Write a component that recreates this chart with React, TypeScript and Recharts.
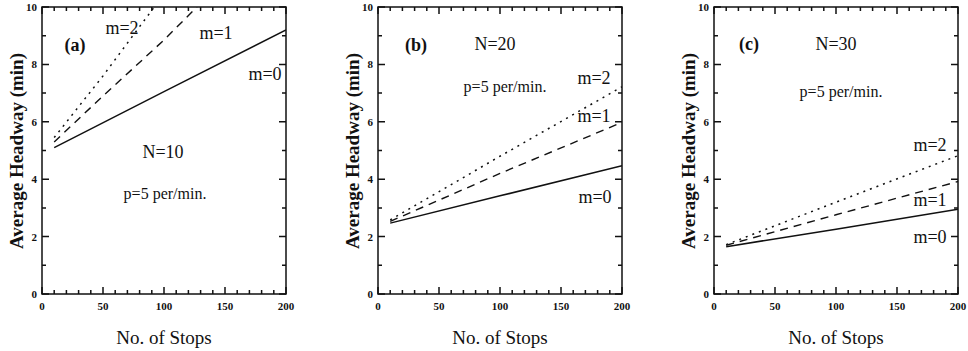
import { Line, LineChart, ReferenceArea, XAxis, YAxis } from "recharts";

// ─── Data ─────────────────────────────────────────────────────────────────────
const X_TICKS = [0, 10, 20, 30, 40, 50, 60, 70, 80, 90, 100, 110, 120, 130, 140, 150, 160, 170, 180, 190, 200];
const Y_TICKS = [0, 1, 2, 3, 4, 5, 6, 7, 8, 9, 10];

const STOPS = [10, 100, 200];

// (a) N=10 — m=1 and m=2 leave the frame at the top
const A_M0 = [5.1, 7.05, 9.2];
const A_M1_STOPS = [10, 50, 100, 127];
const A_M1 = [5.3, 6.9, 8.85, 10];
const A_M2_STOPS = [10, 50, 92];
const A_M2 = [5.45, 7.6, 10];

// (b) N=20
const B_M0 = [2.47, 3.42, 4.47];
const B_M1 = [2.53, 4.2, 5.98];
const B_M2 = [2.58, 4.8, 7.22];

// (c) N=30
const C_M0 = [1.65, 2.26, 2.95];
const C_M1 = [1.7, 2.76, 3.92];
const C_M2 = [1.72, 3.2, 4.82];

// ─── Layout / styles ──────────────────────────────────────────────────────────
const INK = "#111";
const SERIF = "'Liberation Serif', 'Times New Roman', serif";
const FRAME_W = 1.5;
const CHART_W = 296;
const CHART_H = 351;
const MARGIN = { top: 7, right: 10, bottom: 0, left: 0 };
const Y_AXIS_W = 42;
const X_AXIS_H = 57;
const PLOT_TOP = MARGIN.top;
const PLOT_BOTTOM = CHART_H - MARGIN.bottom - X_AXIS_H;
const PLOT_LEFT = MARGIN.left + Y_AXIS_W;
const PLOT_RIGHT = CHART_W - MARGIN.right;

const toPoints = (stops: number[], values: number[]) =>
  stops.map((s, i) => ({ s, h: values[i] }));

// ─── Ticks: inward on all four sides, minor + major (drawn as paths) ─────────
function XTick({ x, payload }: any) {
  const v = payload.value;
  const major = v % 50 === 0;
  const len = major ? 7 : 4;
  const d = `M${x},${PLOT_BOTTOM}V${PLOT_BOTTOM - len}M${x},${PLOT_TOP}V${PLOT_TOP + len}`;
  return (
    <g>
      <path d={d} stroke={INK} strokeWidth={FRAME_W} fill="none" />
      {major && (
        <text x={x} y={PLOT_BOTTOM + 16} textAnchor="middle" fontFamily={SERIF} fontWeight="bold" fontSize={11} fill={INK}>
          {v}
        </text>
      )}
    </g>
  );
}

function YTick({ y, payload }: any) {
  const v = payload.value;
  const major = v % 2 === 0;
  const len = major ? 7 : 4;
  const d = `M${PLOT_LEFT},${y}H${PLOT_LEFT + len}M${PLOT_RIGHT},${y}H${PLOT_RIGHT - len}`;
  return (
    <g>
      <path d={d} stroke={INK} strokeWidth={FRAME_W} fill="none" />
      {major && (
        <text x={PLOT_LEFT - 5} y={y + 4} textAnchor="end" fontFamily={SERIF} fontWeight="bold" fontSize={11} fill={INK}>
          {v}
        </text>
      )}
    </g>
  );
}

// ─── Panel ────────────────────────────────────────────────────────────────────
interface Note {
  text: string
  cx: number
  cy: number
  size: number
  bold?: boolean
}

interface PanelProps {
  left: number
  m0: { s: number; h: number }[]
  m1: { s: number; h: number }[]
  m2: { s: number; h: number }[]
  notes: Note[]
}

function Panel({ left, m0, m1, m2, notes }: PanelProps) {
  return (
    <div style={{ position: "absolute", left, top: 0, width: CHART_W, height: CHART_H }}>
      <LineChart width={CHART_W} height={CHART_H} margin={MARGIN}>
        <XAxis
          dataKey="s"
          type="number"
          domain={[0, 200]}
          ticks={X_TICKS}
          interval={0}
          allowDataOverflow
          height={X_AXIS_H}
          tickLine={false}
          axisLine={false}
          tick={(p: any) => <XTick {...p} />}
        />
        <YAxis
          type="number"
          domain={[0, 10]}
          ticks={Y_TICKS}
          interval={0}
          allowDataOverflow
          width={Y_AXIS_W}
          tickLine={false}
          axisLine={false}
          tick={(p: any) => <YTick {...p} />}
        />

        {/* plot frame */}
        <ReferenceArea x1={0} x2={200} y1={0} y2={10} fill="none" fillOpacity={0} stroke={INK} strokeWidth={FRAME_W} />

        <Line data={m0} dataKey="h" stroke={INK} strokeWidth={1.5} dot={false} isAnimationActive={false} />
        <Line data={m1} dataKey="h" stroke={INK} strokeWidth={1.4} strokeDasharray="8 6" dot={false} isAnimationActive={false} />
        <Line data={m2} dataKey="h" stroke={INK} strokeWidth={1.5} strokeDasharray="2 5" dot={false} isAnimationActive={false} />
      </LineChart>

      {/* axis titles */}
      <div
        style={{
          position: "absolute",
          left: 17,
          top: 151,
          transform: "translate(-50%, -50%) rotate(-90deg)",
          whiteSpace: "nowrap",
          fontFamily: SERIF,
          fontWeight: "bold",
          fontSize: 19,
          color: INK,
        }}
      >
        Average Headway (min)
      </div>
      <div
        style={{
          position: "absolute",
          left: 164,
          top: 338,
          transform: "translate(-50%, -50%)",
          whiteSpace: "nowrap",
          fontFamily: SERIF,
          fontSize: 19,
          color: INK,
        }}
      >
        No. of Stops
      </div>

      {/* annotations */}
      {notes.map((n) => (
        <div
          key={n.text}
          style={{
            position: "absolute",
            left: n.cx,
            top: n.cy,
            transform: "translate(-50%, -50%)",
            whiteSpace: "nowrap",
            fontFamily: SERIF,
            fontWeight: n.bold ? "bold" : "normal",
            fontSize: n.size,
            color: INK,
          }}
        >
          {n.text}
        </div>
      ))}
    </div>
  );
}

export default function App() {
  return (
    <div
      style={{
        position: "absolute",
        left: 0,
        top: 0,
        width: 968,
        height: 351,
        overflow: "hidden",
        background: "#fff",
      }}
    >
      <Panel
        left={0}
        m0={toPoints(STOPS, A_M0)}
        m1={toPoints(A_M1_STOPS, A_M1)}
        m2={toPoints(A_M2_STOPS, A_M2)}
        notes={[
          { text: "(a)", cx: 75, cy: 45, size: 18, bold: true },
          { text: "m=2", cx: 122, cy: 28, size: 18 },
          { text: "m=1", cx: 216, cy: 33, size: 18 },
          { text: "m=0", cx: 265, cy: 74, size: 18 },
          { text: "N=10", cx: 163, cy: 152, size: 18 },
          { text: "p=5 per/min.", cx: 165, cy: 194, size: 16 },
        ]}
      />
      <Panel
        left={336}
        m0={toPoints(STOPS, B_M0)}
        m1={toPoints(STOPS, B_M1)}
        m2={toPoints(STOPS, B_M2)}
        notes={[
          { text: "(b)", cx: 80, cy: 45, size: 18, bold: true },
          { text: "N=20", cx: 159, cy: 44, size: 18 },
          { text: "p=5 per/min.", cx: 169, cy: 87, size: 16 },
          { text: "m=2", cx: 258, cy: 78, size: 18 },
          { text: "m=1", cx: 258, cy: 116, size: 18 },
          { text: "m=0", cx: 259, cy: 197, size: 18 },
        ]}
      />
      <Panel
        left={672}
        m0={toPoints(STOPS, C_M0)}
        m1={toPoints(STOPS, C_M1)}
        m2={toPoints(STOPS, C_M2)}
        notes={[
          { text: "(c)", cx: 77, cy: 44, size: 18, bold: true },
          { text: "N=30", cx: 164, cy: 44, size: 18 },
          { text: "p=5 per/min.", cx: 169, cy: 92, size: 16 },
          { text: "m=2", cx: 258, cy: 145, size: 18 },
          { text: "m=1", cx: 258, cy: 200, size: 18 },
          { text: "m=0", cx: 258, cy: 237, size: 18 },
        ]}
      />
    </div>
  );
}
